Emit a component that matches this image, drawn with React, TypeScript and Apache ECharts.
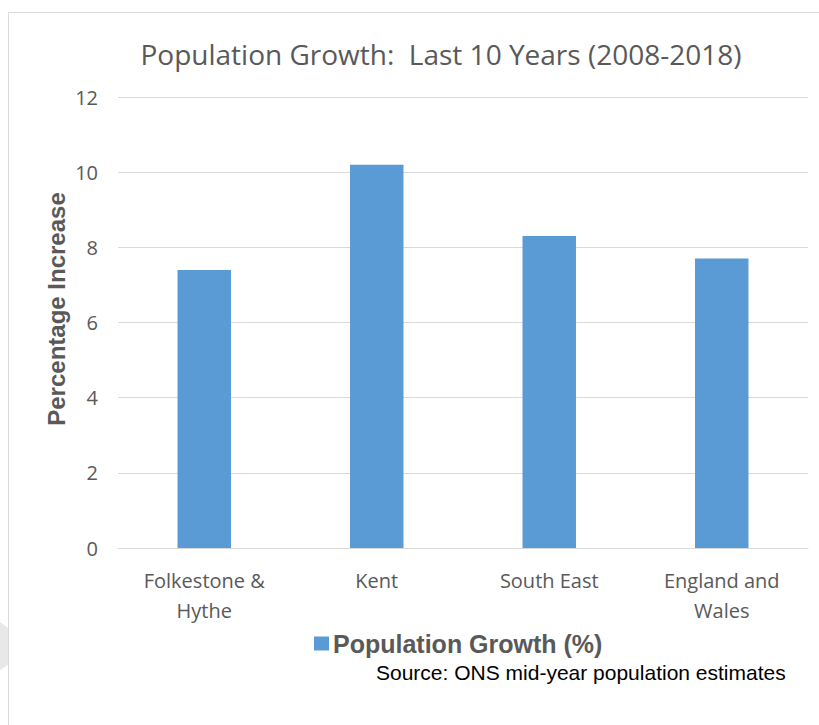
import React, { useEffect, useRef } from "react";
import * as echarts from "echarts";

const categories = ["Folkestone &\nHythe", "Kent", "South East", "England and\nWales"];
const growthValues = [7.4, 10.2, 8.3, 7.7];
const seriesName = "Population Growth (%)";
const titleText = "Population Growth:  Last 10 Years (2008-2018)";
const yAxisName = "Percentage Increase";
const sourceText = "Source: ONS mid-year population estimates";

export default function App() {
  const ref = useRef<HTMLDivElement>(null);
  useEffect(() => {
    if (!ref.current) return;
    const chart = echarts.init(ref.current, null, { renderer: "svg" });
    const font = "'Open Sans', sans-serif";
    const arial = "'Liberation Sans', Arial, sans-serif";
    chart.setOption({
      animation: false,
      backgroundColor: "#ffffff",
      title: {
        text: titleText,
        left: 436,
        textAlign: "center",
        top: 35,
        textStyle: { color: "#595959", fontSize: 28, fontWeight: "normal", fontFamily: font },
      },
      grid: { left: 118, right: 11, top: 97, bottom: 177 },
      legend: {
        left: 309,
        top: 626,
        itemWidth: 15,
        itemHeight: 14,
        itemGap: 6,
        icon: "rect",
        data: [seriesName],
        textStyle: { color: "#595959", fontSize: 25, fontWeight: "bold", fontFamily: arial, padding: [0, 0, 0, -1] },
      },
      xAxis: {
        type: "category",
        data: categories,
        axisTick: { show: false },
        axisLine: { lineStyle: { color: "#d9d9d9", width: 1 } },
        axisLabel: { color: "#595959", fontSize: 20, fontFamily: font, margin: 17, lineHeight: 30, interval: 0 },
      },
      yAxis: {
        type: "value",
        min: 0,
        max: 12,
        interval: 2,
        axisLine: { show: false },
        axisTick: { show: false },
        splitLine: { lineStyle: { color: "#d9d9d9", width: 1 } },
        axisLabel: { color: "#595959", fontSize: 20, fontFamily: font, margin: 20 },
      },
      series: [
        {
          name: seriesName,
          type: "bar",
          data: growthValues,
          barWidth: "31%",
          itemStyle: { color: "#5b9bd5" },
        },
      ],
      graphic: [
        {
          type: "rect",
          shape: { x: 8.5, y: 12.5, width: 830, height: 730 },
          style: { fill: "none", stroke: "#d9d9d9", lineWidth: 1 },
          silent: true,
        },
        {
          type: "polygon",
          shape: { points: [[0, 622], [8, 628], [8, 665], [0, 670]] },
          style: { fill: "#e8e8e8" },
          silent: true,
        },
        {
          type: "text",
          x: 56,
          y: 309,
          rotation: Math.PI / 2,
          style: {
            text: yAxisName,
            fill: "#595959",
            fontSize: 24,
            fontWeight: "bold",
            fontFamily: arial,
            align: "center",
            verticalAlign: "middle",
          },
        },
        {
          type: "text",
          x: 376,
          y: 672,
          style: { text: sourceText, fill: "#000000", fontSize: 21, fontFamily: arial, verticalAlign: "middle" },
        },
      ],
    });
    return () => chart.dispose();
  }, []);
  return <div ref={ref} style={{ position: "absolute", left: 0, top: 0, width: 819, height: 725 }} />;
}
